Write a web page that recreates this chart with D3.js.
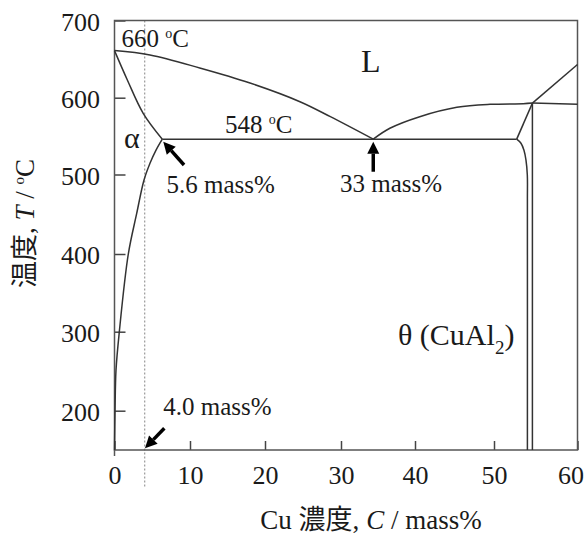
<!DOCTYPE html>
<html>
<head>
<meta charset="utf-8">
<script src="https://cdn.jsdelivr.net/npm/d3@7"></script>
<style>
  html, body { margin: 0; padding: 0; background: #fff; }
  svg { display: block; }
  svg text { font-family: "Liberation Serif", "Noto Sans CJK JP", serif; fill: #1a1a1a; }
</style>
</head>
<body>
<svg id="chart" width="587" height="535"></svg>
<script>
// ---- data (Cu mass%, temperature °C) ----
const xTicks = [0, 10, 20, 30, 40, 50, 60];
const yTicks = [200, 300, 400, 500, 600, 700];
const yDomainStops = [150, 200, 300, 400, 500, 600, 700];

const liquidusAl = [[0, 661], [4.7, 655.3], [11.3, 638.5], [18, 619], [24.6, 594.8], [28.6, 575.3], [34.36, 546]];
const solidusAl = [[0, 661], [1.7, 623], [3.8, 579.7], [6.33, 546]];
const solvusAl = [[6.33, 546], [5.5, 531.7], [4.7, 514.6], [3.91, 493.1], [2.94, 451], [1.83, 400], [0.64, 300], [0.2, 251.5], [0.07, 201], [0, 150]];
const eutecticLine = [[6.33, 546], [52.72, 546]];
const liquidusTheta = [[34.36, 546], [36.6, 560.2], [40.6, 575.3], [45.3, 587.5], [49.5, 591.4], [53.5, 592.2], [54.6, 593]];
const peritecticLine = [[54.6, 593], [60, 591.6]];
const liquidusUpper = [[54.6, 593], [60, 643]];
const thetaSolidus = [[52.72, 546], [54.6, 593]];
const thetaSolvus = [[52.72, 546], [53.23, 540.7], [53.59, 531.6], [53.83, 518.6], [53.99, 499.4], [54.0, 468], [54.0, 150]];
const thetaRight = [[54.6, 593], [54.6, 150]];
const alloyLine = [[4.0, 700], [4.0, 103]];

const arrows = [
  { tail: [9.21, 512.4], tip: [6.46, 542.7] },
  { tail: [34.36, 503.6], tip: [34.36, 542.7] },
  { tail: [6.6, 177.6], tip: [4.04, 152.2] }
];

// ---- scales ----
const svg = d3.select("#chart");
const x = d3.scaleLinear().domain(xTicks).range([114.5, 190, 265, 341, 415, 494, 577.5]);
const y = d3.scaleLinear().domain(yDomainStops).range([450, 410.7, 331.7, 254, 174.5, 97.7, 20.5]);

const curveLine = d3.line().x(d => x(d[0])).y(d => y(d[1])).curve(d3.curveCatmullRom.alpha(0.5));
const straight = d3.line().x(d => x(d[0])).y(d => y(d[1]));
const serif = "'Liberation Serif', 'Noto Sans CJK JP', serif";

// dotted alloy line
svg.append("path").attr("d", straight(alloyLine))
  .attr("fill", "none").attr("stroke", "#999").attr("stroke-width", 1.2)
  .attr("stroke-dasharray", "2,2");

// axes (ticks inward)
const gx = svg.append("g").attr("transform", `translate(0,${y(150)})`)
  .call(d3.axisBottom(x).tickValues(xTicks).tickSize(-9).tickSizeOuter(0).tickPadding(15));
gx.attr("font-family", null).attr("font-size", null);
gx.select(".domain").remove();
gx.selectAll("line").attr("stroke", "#444").attr("stroke-width", 1.5);
gx.selectAll("text").attr("y", 33.5).attr("dy", 0)
  .style("font-family", serif).style("font-size", "26px").style("fill", "#1a1a1a")
  .attr("dx", d => d === 60 ? -7 : 0);

const gy = svg.append("g").attr("transform", `translate(${x(0)},0)`)
  .call(d3.axisLeft(y).tickValues(yTicks).tickSize(-11).tickSizeOuter(0).tickPadding(14.5));
gy.attr("font-family", null).attr("font-size", null);
gy.select(".domain").remove();
gy.selectAll("line").attr("stroke", "#444").attr("stroke-width", 1.5);
gy.selectAll("text").attr("dy", "0.37em")
  .style("font-family", serif).style("font-size", "26px").style("fill", "#1a1a1a");

// frame
svg.append("rect")
  .attr("x", x(0)).attr("y", y(700))
  .attr("width", x(60) - x(0)).attr("height", y(150) - y(700))
  .attr("fill", "none").attr("stroke", "#555").attr("stroke-width", 1.5);
svg.append("line").attr("x1", x(0)).attr("x2", x(0)).attr("y1", y(150)).attr("y2", y(150) + 6)
  .attr("stroke", "#555").attr("stroke-width", 1.5);

// phase boundaries
const curves = [liquidusAl, solidusAl, solvusAl, liquidusTheta, thetaSolvus];
curves.forEach(c => svg.append("path").attr("d", curveLine(c))
  .attr("fill", "none").attr("stroke", "#333").attr("stroke-width", 1.5));
const lines = [eutecticLine, peritecticLine, liquidusUpper, thetaSolidus, thetaRight];
lines.forEach(c => svg.append("path").attr("d", straight(c))
  .attr("fill", "none").attr("stroke", "#333").attr("stroke-width", 1.5));

// arrows
arrows.forEach(a => {
  const tx = x(a.tip[0]), ty = y(a.tip[1]);
  const sx = x(a.tail[0]), sy = y(a.tail[1]);
  const ang = Math.atan2(ty - sy, tx - sx);
  const hl = 12, hw = 6;
  const bx = tx - hl * Math.cos(ang), by = ty - hl * Math.sin(ang);
  svg.append("line").attr("x1", sx).attr("y1", sy).attr("x2", bx).attr("y2", by)
    .attr("stroke", "#000").attr("stroke-width", 3.5);
  const pts = [
    [tx, ty],
    [bx + hw * Math.sin(ang), by - hw * Math.cos(ang)],
    [bx - hw * Math.sin(ang), by + hw * Math.cos(ang)]
  ];
  svg.append("polygon").attr("points", pts.map(p => p.join(",")).join(" ")).attr("fill", "#000");
});

// helper for "xxx °C" labels with small raised o
function degLabel(px, py, num) {
  const t = svg.append("text").attr("x", px).attr("y", py).style("font-size", "25px");
  t.append("tspan").text(num + " ");
  t.append("tspan").style("font-size", "14px").attr("dy", -9).text("o");
  t.append("tspan").attr("dy", 9).text("C");
}
degLabel(121.5, 46.5, "660");
degLabel(225, 133.3, "548");

svg.append("text").attr("x", 361).attr("y", 71.5).style("font-size", "32px").text("L");
svg.append("text").attr("x", 124).attr("y", 148).style("font-size", "30px").text("α");
svg.append("text").attr("x", 166.5).attr("y", 193.3).style("font-size", "25px").text("5.6 mass%");
svg.append("text").attr("x", 340).attr("y", 191.7).style("font-size", "25px").text("33 mass%");
svg.append("text").attr("x", 163.3).attr("y", 415).style("font-size", "25px").text("4.0 mass%");

const th = svg.append("text").attr("x", 398).attr("y", 345).style("font-size", "30px");
th.append("tspan").text("θ (CuAl");
th.append("tspan").style("font-size", "19px").attr("dy", 9).text("2");
th.append("tspan").attr("dy", -9).text(")");

// axis titles
const xt = svg.append("text").attr("x", 371).attr("y", 529).style("font-size", "27px")
  .attr("text-anchor", "middle");
xt.append("tspan").text("Cu 濃度, ");
xt.append("tspan").attr("font-style", "italic").text("C");
xt.append("tspan").text(" / mass%");

const yt = svg.append("text").attr("transform", "translate(34,223.5) rotate(-90)")
  .style("font-size", "27px").attr("text-anchor", "middle");
yt.append("tspan").text("温度, ");
yt.append("tspan").attr("font-style", "italic").text("T");
yt.append("tspan").text(" / ");
yt.append("tspan").style("font-size", "15px").attr("dy", -10).text("o");
yt.append("tspan").attr("dy", 10).text("C");
</script>
</body>
</html>
